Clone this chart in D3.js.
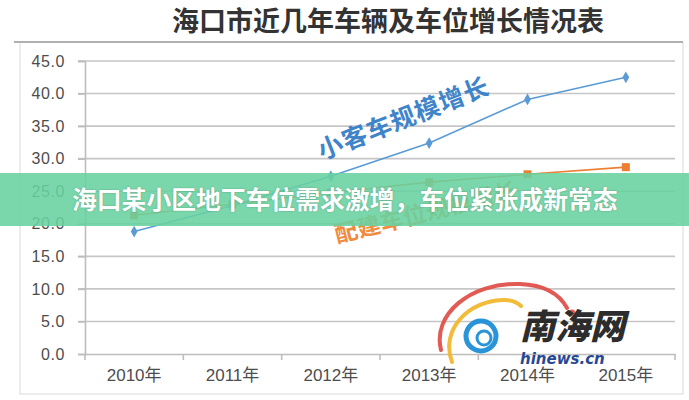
<!DOCTYPE html>
<html>
<head>
<meta charset="utf-8">
<script src="https://cdn.jsdelivr.net/npm/d3@7"></script>
<style>
html,body{margin:0;padding:0;background:#fff;}
svg{display:block;}
</style>
</head>
<body>
<svg id="chart" width="689" height="400"></svg>
<script>
// ---- data ----
const title = "海口市近几年车辆及车位增长情况表";
const banner = "海口某小区地下车位需求激增，车位紧张成新常态";
const years = ["2010年","2011年","2012年","2013年","2014年","2015年"];
const carValues = [18.8, 22.8, 27.3, 32.4, 39.1, 42.5];      // 小客车规模
const parkingValues = [21.3, 23.0, 24.8, 26.4, 27.6, 28.7];  // 配建车位规模
const yTicks = [0,5,10,15,20,25,30,35,40,45];
const carLabel = "小客车规模增长";
const parkLabel = "配建车位规模增长";

const svg = d3.select("#chart");
const W = 689, H = 400;
const m = {left:85, right:14, top:61, bottom:46};

const x = d3.scaleBand().domain(years).range([m.left, W - m.right]);
const y = d3.scaleLinear().domain([0,45]).range([H - m.bottom, m.top]);

// frame
svg.append("rect").attr("x",20).attr("y",42).attr("width",663).attr("height",352)
  .attr("fill","#fff").attr("stroke","#d9d9d9").attr("stroke-width",1);
svg.append("line").attr("x1",14).attr("x2",683).attr("y1",42).attr("y2",42)
  .attr("stroke","#b0b0b0").attr("stroke-width",2);

// title
svg.append("text").attr("x",388).attr("y",31).attr("text-anchor","middle")
  .attr("font-family","'Noto Sans CJK SC', sans-serif").attr("font-weight","bold")
  .attr("font-size",27).attr("fill","#333").text(title);

// gridlines
const grid = svg.append("g");
grid.selectAll("line").data(yTicks.filter(d=>d>0)).join("line")
  .attr("x1", m.left - 7).attr("x2", W - m.right)
  .attr("y1", d=>y(d)).attr("y2", d=>y(d))
  .attr("stroke","#c6c6c6").attr("stroke-width",1.6);

// y axis
const yAxis = svg.append("g").attr("transform",`translate(${m.left},0)`)
  .call(d3.axisLeft(y).tickValues(yTicks).tickFormat(d3.format(".1f")).tickSize(7).tickPadding(13));
yAxis.select(".domain").attr("stroke","#bdbdbd").attr("stroke-width",1.6);
yAxis.selectAll(".tick line").attr("stroke","#bdbdbd").attr("stroke-width",1.6);
yAxis.selectAll("text").attr("font-family","'Liberation Sans', Arial, sans-serif")
  .attr("font-size",16).attr("fill","#4d4d4d").attr("letter-spacing","0.6px");

// x axis
const xAxis = svg.append("g").attr("transform",`translate(0,${y(0)})`)
  .call(d3.axisBottom(x).tickSize(0).tickPadding(15));
xAxis.select(".domain").attr("stroke","#bdbdbd").attr("stroke-width",1.6);
xAxis.selectAll("text").attr("font-family","'Liberation Sans', 'Noto Sans CJK SC', sans-serif")
  .attr("font-size",17).attr("fill","#4d4d4d");
// boundary ticks
const bounds = years.map(d=>x(d)).concat([x(years[years.length-1]) + x.bandwidth()]);
svg.append("g").selectAll("line").data(bounds).join("line")
  .attr("x1",d=>d).attr("x2",d=>d).attr("y1",y(0)).attr("y2",y(0)+6)
  .attr("stroke","#bdbdbd").attr("stroke-width",1.6);

const cx = d => x(d) + x.bandwidth()/2;
const line = d3.line().x((d,i)=>cx(years[i])).y(d=>y(d));

// parking series (orange, squares)
svg.append("path").datum(parkingValues).attr("d",line)
  .attr("fill","none").attr("stroke","#ed7d31").attr("stroke-width",1.6);
svg.append("g").selectAll("rect").data(parkingValues).join("rect")
  .attr("x",(d,i)=>cx(years[i])-4).attr("y",d=>y(d)-4).attr("width",8).attr("height",8)
  .attr("fill","#ed7d31");

// car series (blue, diamonds)
svg.append("path").datum(carValues).attr("d",line)
  .attr("fill","none").attr("stroke","#5b9bd5").attr("stroke-width",1.6);
svg.append("g").selectAll("path").data(carValues).join("path")
  .attr("d", d3.symbol().type(d3.symbolDiamond).size(40))
  .attr("transform",(d,i)=>`translate(${cx(years[i])},${y(d)})`)
  .attr("fill","#5b9bd5");

// hand annotations
svg.append("text").attr("transform","translate(322,160) rotate(-21.5)")
  .attr("font-family","'Noto Sans CJK SC', sans-serif").attr("font-weight","bold")
  .attr("font-size",25).attr("fill","#3f84c9").attr("letter-spacing","1px").text(carLabel);
svg.append("text").attr("transform","translate(337,243) rotate(-14)")
  .attr("font-family","'Noto Sans CJK SC', sans-serif").attr("font-weight","bold")
  .attr("font-size",23).attr("fill","#f08a3c").attr("letter-spacing","0.5px").text(parkLabel);

// watermark logo
const wm = svg.append("g").attr("opacity",0.95);
wm.append("path").attr("d","M441,350 C432,315 470,282 520,284 C545,285 560,295 567,308")
  .attr("fill","none").attr("stroke","#e0524a").attr("stroke-width",4).attr("stroke-linecap","round");
wm.append("path").attr("d","M452,362 C440,330 468,300 505,300 C512,300 518,303 521,306")
  .attr("fill","none").attr("stroke","#f2b830").attr("stroke-width",4).attr("stroke-linecap","round");
wm.append("circle").attr("cx",481).attr("cy",336).attr("r",15).attr("fill","none")
  .attr("stroke","#1f8fd6").attr("stroke-width",5);
wm.append("circle").attr("cx",484).attr("cy",338).attr("r",7).attr("fill","none")
  .attr("stroke","#1f8fd6").attr("stroke-width",3);
wm.append("circle").attr("cx",572).attr("cy",313).attr("r",3.5).attr("fill","#e0524a");
wm.append("text").attr("x",520).attr("y",339)
  .attr("font-family","'Noto Sans CJK SC', sans-serif").attr("font-weight","900")
  .attr("font-style","italic").attr("font-size",35).attr("fill","#222")
  .text("南海网");
wm.append("text").attr("x",520).attr("y",364)
  .attr("font-family","'DejaVu Sans', sans-serif").attr("font-weight","bold")
  .attr("font-style","italic").attr("font-size",15).attr("fill","#1b3f8f")
  .text("hinews.cn");

// banner overlay
svg.append("rect").attr("x",0).attr("y",173).attr("width",W).attr("height",53)
  .attr("fill","rgb(104,209,160)").attr("opacity",0.88);
svg.append("text").attr("x",72).attr("y",209)
  .attr("font-family","'Noto Sans CJK SC', sans-serif").attr("font-weight","bold")
  .attr("font-size",24.8).attr("fill","#fff")
  .style("text-shadow","0 0 2px rgba(0,0,0,0.25)")
  .text(banner);
</script>
</body>
</html>
